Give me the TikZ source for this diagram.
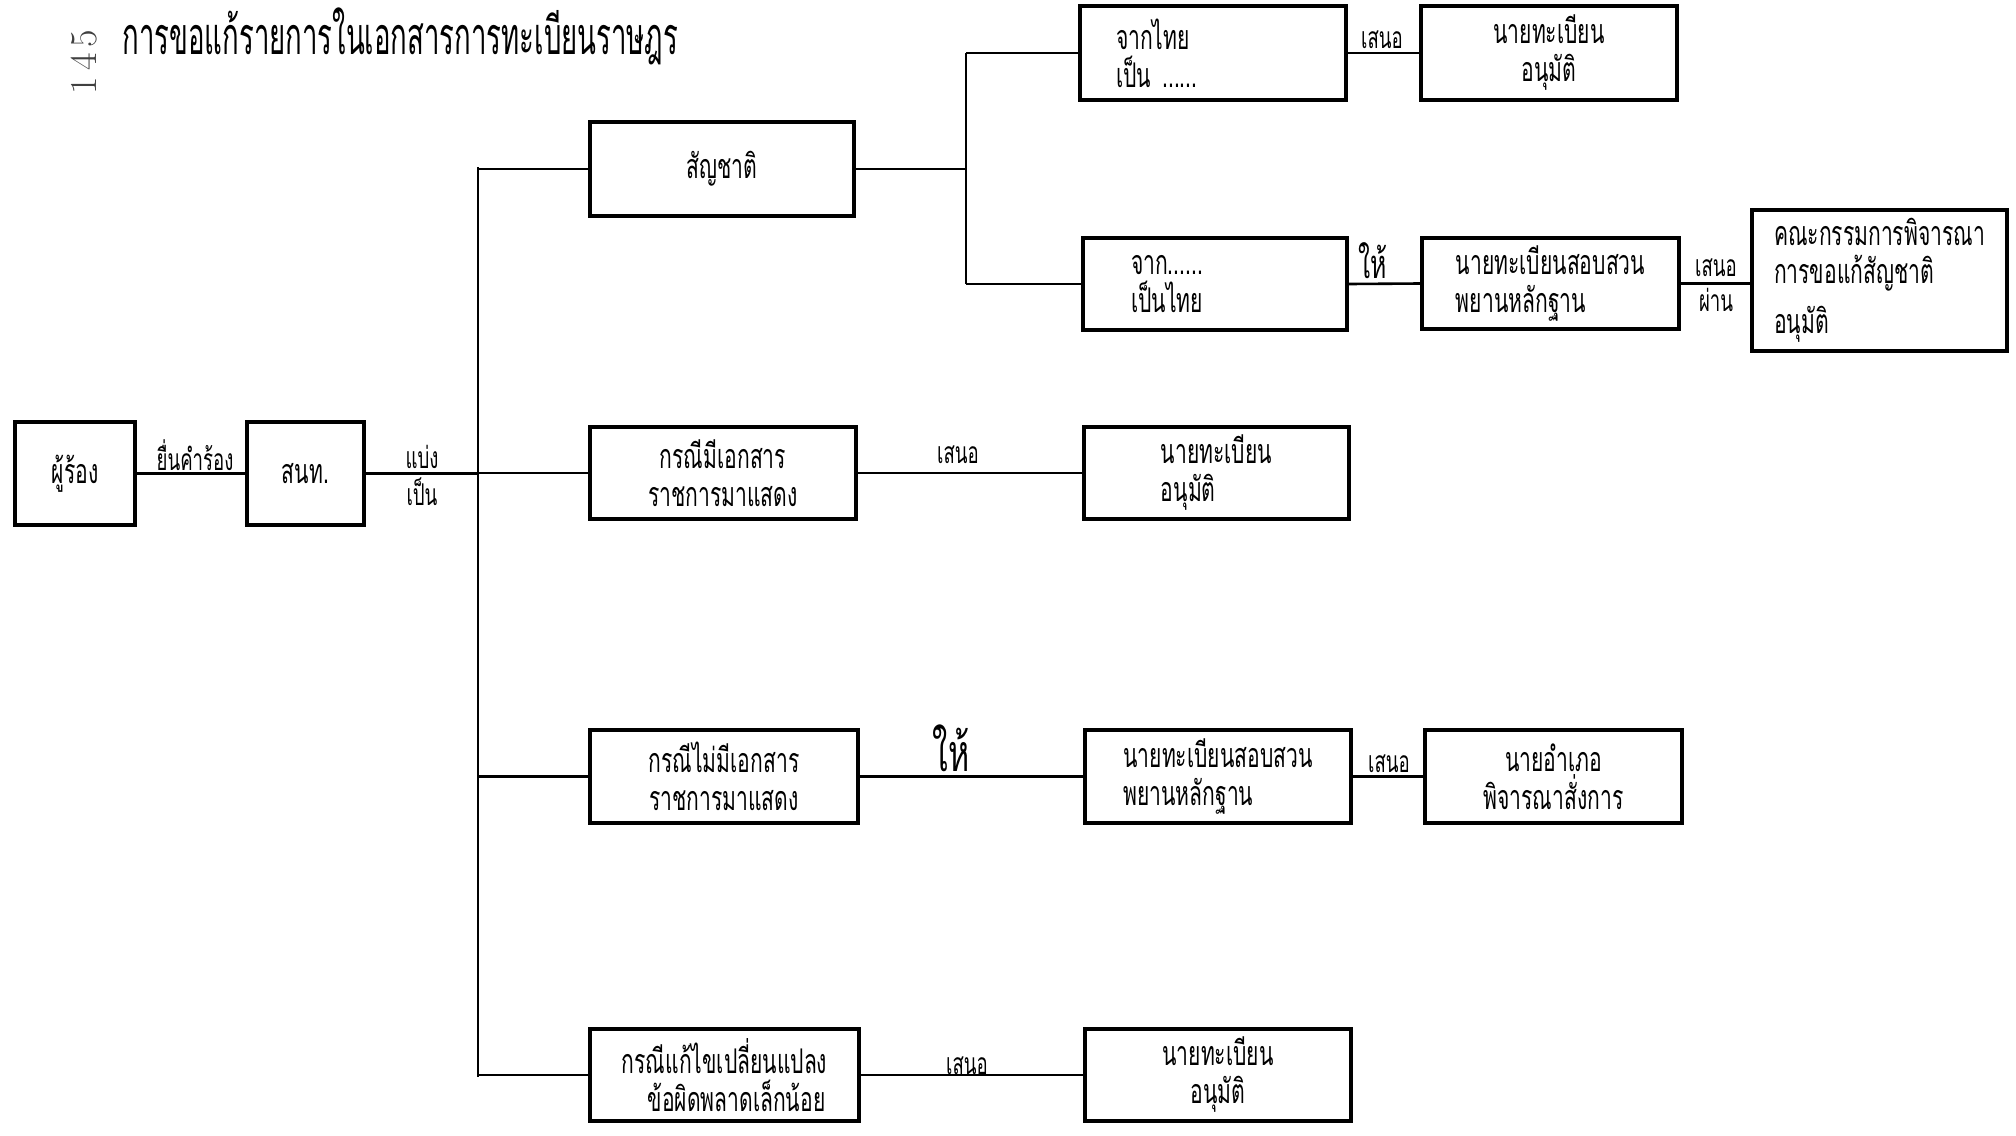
\documentclass[tikz,border=0pt]{standalone}
\usepackage{fontspec}
\usepackage{graphicx}
\newfontfamily\thai[Script=Thai,FakeStretch=0.62]{Loma}
\newfontfamily\thaititle[Script=Thai,FakeStretch=0.53]{Loma}
\begin{document}
\begin{tikzpicture}[x=0.5pt,y=-0.5pt,
  box/.style={draw, line width=2.2pt, inner sep=0pt, font=\thai\fontsize{17}{19}\selectfont, align=center},
  lbox/.style={box, align=left},
  conn/.style={line width=1.3pt},
  lbl/.style={font=\thai\fontsize{15}{16}\selectfont, inner sep=0pt},
  biglbl/.style={font=\thai\fontsize{26}{28}\selectfont, inner sep=0pt}]
\useasboundingbox[fill=white] (0,0) rectangle (2016,1135);

% title and page number
\node[anchor=west, font=\thaititle\fontsize{26}{30}\selectfont, inner sep=0pt] (title) at (122,36) {การขอแก้รายการในเอกสารการทะเบียนราษฎร};
\node[rotate=90, font=\fontsize{19}{19}\selectfont, inner sep=0pt, text=black!75] (pg) at (84,62) {1\hspace{3pt}4\hspace{3pt}5};

% boxes
\node[box, minimum width=60pt, minimum height=51.5pt] (b1) at (75,473.5) {ผู้ร้อง};
\node[box, minimum width=58.5pt, minimum height=51.5pt] (b2) at (305.5,473.5) {สนท.};
\node[box, minimum width=132pt, minimum height=47pt] (b3) at (722,169) {สัญชาติ};
\node[lbox, inner xsep=18pt, text width=97pt, minimum height=47pt] (b4) at (1213,53) {จากไทย\\เป็น ......};
\node[box, minimum width=128pt, minimum height=47pt] (b5) at (1549,53) {นายทะเบียน\\อนุมัติ};
\node[lbox, inner xsep=24pt, text width=84pt, minimum height=46pt] (b6) at (1215,284) {จาก......\\เป็นไทย};
\node[lbox, minimum width=128.5pt, minimum height=45.5pt] (b7) at (1550.5,283.5) {นายทะเบียนสอบสวน\\พยานหลักฐาน};
\node[lbox, minimum width=127.5pt, minimum height=70.5pt] (b8) at (1879.5,280.5) {คณะกรรมการพิจารณา\\การขอแก้สัญชาติ\\[6pt]อนุมัติ};
\node[box, minimum width=133pt, minimum height=46pt] (b9) at (723,473) {กรณีมีเอกสาร\\ราชการมาแสดง};
\node[lbox, minimum width=132.5pt, minimum height=46pt] (b10) at (1216.5,473) {นายทะเบียน\\อนุมัติ};
\node[box, minimum width=134pt, minimum height=46.5pt] (b11) at (724,776.5) {กรณีไม่มีเอกสาร\\ราชการมาแสดง};
\node[lbox, minimum width=133pt, minimum height=46.5pt] (b12) at (1218,776.5) {นายทะเบียนสอบสวน\\พยานหลักฐาน};
\node[box, minimum width=128.5pt, minimum height=46.5pt] (b13) at (1553.5,776.5) {นายอำเภอ\\พิจารณาสั่งการ};
\node[box, minimum width=134.5pt, minimum height=46pt] (b14) at (724.5,1075) {กรณีแก้ไขเปลี่ยนแปลง\\\hspace*{12pt}ข้อผิดพลาดเล็กน้อย};
\node[box, minimum width=133pt, minimum height=46pt] (b15) at (1218,1075) {นายทะเบียน\\อนุมัติ};

% trunk and fork coordinates
\coordinate (tTop) at (478,167);
\coordinate (tBot) at (478,1077);
\coordinate (fTop) at (966,53);
\coordinate (fBot) at (966,284);

% connectors
\draw[conn] (b1.east) -- (b2.west);
\draw[conn] (b2.east) -- (b2.east -| tTop);
\draw[conn] (tTop) -- (tBot);
\draw[conn] (b3.west) -- (b3.west -| tTop);
\draw[conn] (b9.west) -- (b9.west -| tTop);
\draw[conn] (b11.west) -- (b11.west -| tTop);
\draw[conn] (b14.west) -- (b14.west -| tTop);
\draw[conn] (fTop) -- (fBot);
\draw[conn] (b3.east) -- (b3.east -| fTop);
\draw[conn] (b4.west) -- (b4.west -| fTop);
\draw[conn] (b6.west) -- (b6.west -| fTop);
\draw[conn] (b4.east) -- (b5.west);
\draw[conn] (b6.east) -- (b7.west);
\draw[conn] (b7.east) -- (b8.west |- b7.east);
\draw[conn] (b9.east) -- (b10.west);
\draw[conn] (b11.east) -- (b12.west);
\draw[conn] (b12.east) -- (b13.west);
\draw[conn] (b14.east) -- (b15.west);

% connector labels
\node[lbl] (l1) at (195,455) {ยื่นคำร้อง};
\node[lbl] (l2) at (422,457) {แบ่ง};
\node[lbl] (l3) at (422,492) {เป็น};
\node[lbl] (l4) at (1382,40) {เสนอ};
\node[lbl, font=\thai\fontsize{20}{22}\selectfont] (l5) at (1373,261) {ให้};
\node[lbl] (l6) at (1716,268) {เสนอ};
\node[lbl] (l7) at (1716,300) {ผ่าน};
\node[lbl] (l8) at (958,455) {เสนอ};
\node[biglbl] (l9) at (951,748) {ให้};
\node[lbl] (l10) at (1389,764) {เสนอ};
\node[lbl] (l11) at (967,1066) {เสนอ};
\end{tikzpicture}
\end{document}
